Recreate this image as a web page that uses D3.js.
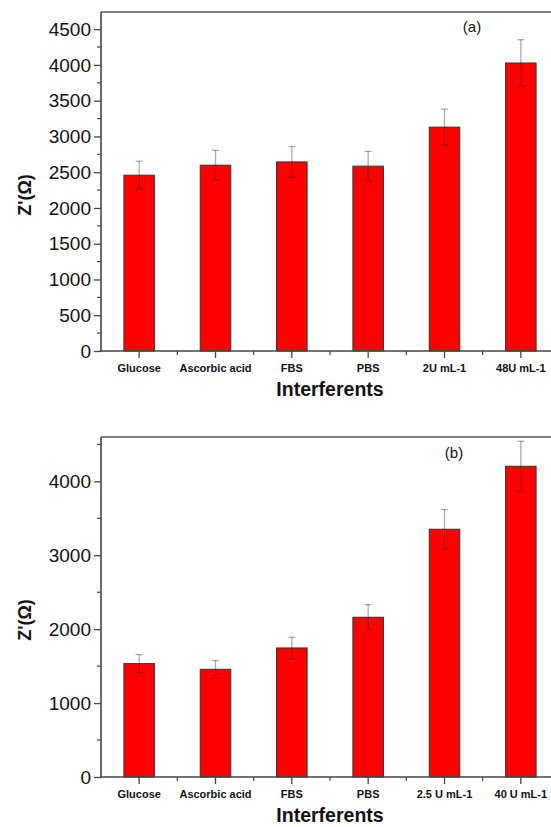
<!DOCTYPE html>
<html><head><meta charset="utf-8">
<script src="https://cdn.jsdelivr.net/npm/d3@7"></script>
<style>html,body{margin:0;padding:0;background:#fff;overflow:hidden}</style>
</head><body>
<svg id="c" width="551" height="827"></svg>
<script>
const categoriesA = ["Glucose","Ascorbic acid","FBS","PBS","2U mL-1","48U mL-1"];
const valuesA = [2458, 2598, 2644, 2584, 3130, 4027];
const errorsA = [195, 207, 214, 207, 252, 326];
const ticksA = [0,500,1000,1500,2000,2500,3000,3500,4000,4500];

const categoriesB = ["Glucose","Ascorbic acid","FBS","PBS","2.5 U mL-1","40 U mL-1"];
const valuesB = [1534, 1457, 1746, 2161, 3352, 4204];
const errorsB = [122, 120, 145, 172, 267, 337];
const ticksB = [0,1000,2000,3000,4000];

const svg = d3.select("#c");
const font = "Arial, 'Liberation Sans', sans-serif";

function panel(o){
  const g = svg.append("g");
  const x = d3.scaleBand().domain(o.cats).range([o.left, o.right]).paddingInner(0.6).paddingOuter(0.3);
  const y = d3.scaleLinear().domain([0, o.ymax]).range([o.bottom, o.top]);
  const band = (o.right - o.left) / o.cats.length;

  g.selectAll("rect.bar").data(o.vals).enter().append("rect")
    .attr("x", (d,i)=>x(o.cats[i]))
    .attr("y", d=>y(d))
    .attr("width", x.bandwidth())
    .attr("height", d=>o.bottom - y(d))
    .attr("fill", "#ff0000").attr("stroke", "#333").attr("stroke-width", 1);

  const eb = g.append("g").attr("stroke", "rgba(0,0,0,0.33)").attr("stroke-width", 1.3).attr("fill","none");
  o.vals.forEach((v,i)=>{
    const cx = x(o.cats[i]) + x.bandwidth()/2;
    const e = o.errs[i];
    eb.append("line").attr("x1",cx).attr("x2",cx).attr("y1",y(v+e)).attr("y2",y(v-e));
    eb.append("line").attr("x1",cx-3.5).attr("x2",cx+3.5).attr("y1",y(v+e)).attr("y2",y(v+e));
    eb.append("line").attr("x1",cx-3.5).attr("x2",cx+3.5).attr("y1",y(v-e)).attr("y2",y(v-e));
  });

  const yAxis = d3.axisLeft(y).tickValues(o.ticks).tickSize(7).tickPadding(3).tickFormat(d3.format("d"));
  const ya = g.append("g").attr("transform", `translate(${o.left},0)`).call(yAxis);
  ya.select(".domain").remove();
  ya.selectAll("line").attr("stroke","#444").attr("stroke-width",1.3);
  ya.selectAll("text").attr("font-family",font).attr("font-size",19).attr("fill","#111");
  const minorY = [];
  for (let k=0; k<o.ticks.length; k++){
    const m = o.ticks[k] + o.minorStep;
    if (m <= o.ymax) minorY.push(m);
  }
  g.append("g").selectAll("line").data(minorY).enter().append("line")
    .attr("x1", o.left-4).attr("x2", o.left).attr("y1", d=>y(d)).attr("y2", d=>y(d))
    .attr("stroke","#444").attr("stroke-width",1.2);

  const xAxis = d3.axisBottom(x).tickSize(7).tickPadding(6);
  const xa = g.append("g").attr("transform", `translate(0,${o.bottom})`).call(xAxis);
  xa.select(".domain").remove();
  xa.selectAll("line").attr("stroke","#444").attr("stroke-width",1.3);
  xa.selectAll("text").attr("font-family",font).attr("font-size",11).attr("font-weight","bold").attr("fill","#111");
  g.append("g").selectAll("line").data(d3.range(1, o.cats.length)).enter().append("line")
    .attr("x1", i=>o.left + i*band).attr("x2", i=>o.left + i*band)
    .attr("y1", o.bottom).attr("y2", o.bottom+4)
    .attr("stroke","#444").attr("stroke-width",1.2);

  g.append("line").attr("x1",o.left).attr("x2",o.left).attr("y1",o.top).attr("y2",o.bottom+0.6)
    .attr("stroke","#444").attr("stroke-width",1.6);
  g.append("line").attr("x1",o.left-0.8).attr("x2",o.right).attr("y1",o.bottom).attr("y2",o.bottom)
    .attr("stroke","#444").attr("stroke-width",1.6);
  g.append("line").attr("x1",o.left).attr("x2",o.right).attr("y1",o.top).attr("y2",o.top)
    .attr("stroke","#555").attr("stroke-width",1.6);
  g.append("line").attr("x1",o.right).attr("x2",o.right).attr("y1",o.top).attr("y2",o.bottom)
    .attr("stroke","#555").attr("stroke-width",1.6);

  g.append("text").attr("x", 330).attr("y", o.bottom + 45).attr("text-anchor","middle")
    .attr("font-family",font).attr("font-size",19.5).attr("font-weight","bold").attr("fill","#111")
    .text("Interferents");
  const yt = g.append("text").attr("transform", `translate(31,${o.ymid}) rotate(-90)`).attr("text-anchor","middle")
    .attr("font-family",font).attr("font-size",18).attr("fill","#111");
  yt.append("tspan").attr("font-weight","bold").text("Z'");
  yt.append("tspan").attr("font-weight","bold").text("(Ω)");

  g.append("text").attr("x", o.lx).attr("y", o.ly).attr("text-anchor","middle")
    .attr("font-family",font).attr("font-size",15).attr("fill","#111").text(o.label);
}

panel({cats:categoriesA, vals:valuesA, errs:errorsA, ticks:ticksA, minorStep:250,
  left:101, right:559, top:12, bottom:351, ymax:4740, ymid:195, label:"(a)", lx:472, ly:32});
panel({cats:categoriesB, vals:valuesB, errs:errorsB, ticks:ticksB, minorStep:500,
  left:101, right:559, top:437, bottom:777, ymax:4600, ymid:620, label:"(b)", lx:454, ly:458});
</script>
</body></html>
